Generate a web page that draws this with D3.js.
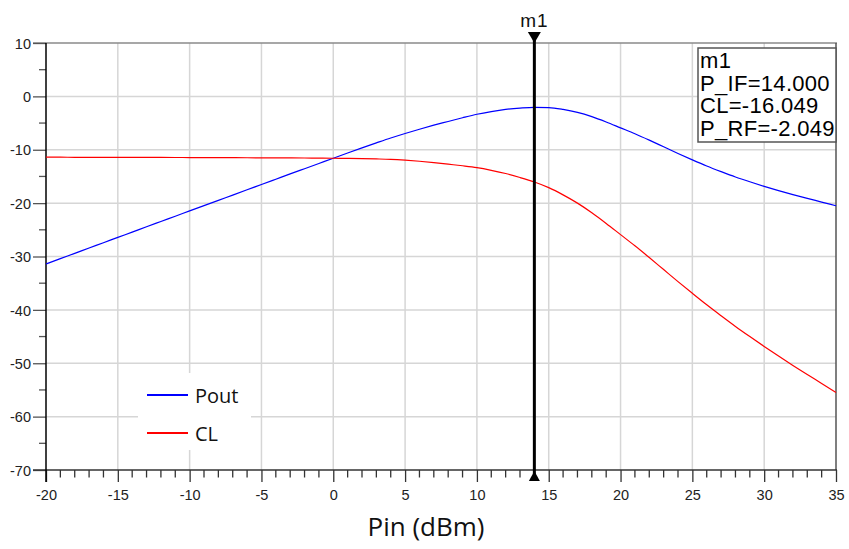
<!DOCTYPE html>
<html>
<head>
<meta charset="utf-8">
<script src="https://cdn.jsdelivr.net/npm/d3@7"></script>
<style>
  html, body { margin: 0; padding: 0; background: #fff; }
  svg { display: block; }
</style>
</head>
<body>
<svg id="chart" width="849" height="549"></svg>
<script>
// Input power sweep (dBm)
const pin = d3.range(-20, 36, 1);

// Output power at RF (dBm)
const pout = [
  -31.40, -30.40, -29.41, -28.41, -27.42, -26.42, -25.43, -24.43, -23.44, -22.45,
  -21.46, -20.47, -19.48, -18.49, -17.50, -16.51, -15.52, -14.53, -13.55, -12.57,
  -11.59, -10.62, -9.66, -8.72, -7.80, -6.95, -6.15, -5.40, -4.70, -4.00,
  -3.35, -2.85, -2.45, -2.20, -2.049, -2.10, -2.45, -3.00, -3.80, -4.80,
  -5.90, -7.00, -8.20, -9.45, -10.70, -11.90, -13.05, -14.10, -15.10, -16.00,
  -16.85, -17.65, -18.40, -19.10, -19.80, -20.50
];

// Conversion loss (dB)
const cl = [
  -11.40, -11.40, -11.41, -11.41, -11.42, -11.42, -11.43, -11.43, -11.44, -11.45,
  -11.46, -11.47, -11.48, -11.49, -11.50, -11.51, -11.52, -11.53, -11.55, -11.57,
  -11.59, -11.62, -11.66, -11.72, -11.80, -11.95, -12.15, -12.40, -12.70, -13.00,
  -13.35, -13.85, -14.45, -15.20, -16.049, -17.10, -18.45, -20.00, -21.80, -23.80,
  -25.90, -28.00, -30.20, -32.45, -34.70, -36.90, -39.05, -41.10, -43.10, -45.00,
  -46.85, -48.65, -50.40, -52.10, -53.80, -55.50
];

const seriesNames = ["Pout", "CL"];
const seriesColors = ["#0000ff", "#ff0000"];

const xMajorTicks = d3.range(-20, 36, 5);
const xMinorTicks = d3.range(-20, 36, 1).filter(v => v % 5 !== 0);
const yMajorTicks = d3.range(-70, 11, 10);
const yMinorTicks = d3.range(-65, 10, 10);

// Marker m1
const markerName = "m1";
const markerX = 14;
const markerIdx = pin.indexOf(markerX);
const markerLines = [
  markerName,
  "P_IF=" + markerX.toFixed(3),
  "CL=" + cl[markerIdx].toFixed(3),
  "P_RF=" + pout[markerIdx].toFixed(3)
];

const svg = d3.select("#chart");
const L = 46, R = 836, T = 43, B = 470;

const x = d3.scaleLinear().domain([-20, 35]).range([L, R]);
const y = d3.scaleLinear().domain([-70, 10]).range([B, T]);

const tickFont = "'Liberation Sans', Arial, sans-serif";
const labelFont = "'Open Sans', 'Noto Sans', sans-serif";
const plain = d => String(d);  // ASCII hyphen for negatives

// grid
const grid = svg.append("g").attr("stroke", "#d6d6d6").attr("stroke-width", 1.5);
grid.selectAll("line.gx").data(xMajorTicks.slice(1, -1)).join("line")
  .attr("x1", d => x(d)).attr("x2", d => x(d)).attr("y1", T).attr("y2", B);
grid.selectAll("line.gy").data(yMajorTicks.slice(1, -1)).join("line")
  .attr("x1", L).attr("x2", R).attr("y1", d => y(d)).attr("y2", d => y(d));

// frame: top and right borders
svg.append("line").attr("x1", 33).attr("x2", R + 1).attr("y1", T).attr("y2", T)
  .attr("stroke", "#8a8a8a").attr("stroke-width", 1.5);
svg.append("line").attr("x1", R).attr("x2", R).attr("y1", T).attr("y2", B)
  .attr("stroke", "#555").attr("stroke-width", 1.5);

// y axis
const yAxis = svg.append("g").attr("transform", `translate(${L},0)`);
yAxis.call(d3.axisLeft(y).tickValues(yMajorTicks).tickFormat(plain).tickSize(13).tickPadding(2))
  .call(g => g.select(".domain").remove());
yAxis.selectAll(".tick line").attr("stroke", "#555").attr("stroke-width", 1.3);
yAxis.selectAll(".tick text").attr("font-family", tickFont).attr("font-size", 14.5)
  .attr("fill", "#222").attr("dy", "0.36em");
yAxis.selectAll("line.minor").data(yMinorTicks).join("line").attr("class", "minor")
  .attr("x1", -7).attr("x2", 0).attr("y1", d => y(d)).attr("y2", d => y(d))
  .attr("stroke", "#555").attr("stroke-width", 1.3);

// x axis
const xAxis = svg.append("g").attr("transform", `translate(0,${B})`);
xAxis.call(d3.axisBottom(x).tickValues(xMajorTicks).tickFormat(plain).tickSize(12).tickPadding(8))
  .call(g => g.select(".domain").remove());
xAxis.selectAll(".tick line").attr("stroke", "#333").attr("stroke-width", 1.3);
xAxis.selectAll(".tick text").attr("font-family", tickFont).attr("font-size", 14.5)
  .attr("fill", "#222");
xAxis.selectAll("line.minor").data(xMinorTicks).join("line").attr("class", "minor")
  .attr("x1", d => x(d)).attr("x2", d => x(d)).attr("y1", 0).attr("y2", 7.5)
  .attr("stroke", "#333").attr("stroke-width", 1.3);

// axis lines
svg.append("line").attr("x1", 33).attr("x2", R + 1).attr("y1", B).attr("y2", B)
  .attr("stroke", "#333").attr("stroke-width", 1.5);
svg.append("line").attr("x1", L).attr("x2", L).attr("y1", T).attr("y2", B + 12)
  .attr("stroke", "#000").attr("stroke-width", 1.5);

// curves
const line = d3.line().x((d, i) => x(pin[i])).y(d => y(d)).curve(d3.curveMonotoneX);
[pout, cl].forEach((s, k) => {
  svg.append("path").datum(s).attr("d", line).attr("fill", "none")
    .attr("stroke", seriesColors[k]).attr("stroke-width", 1.2);
});

// legend
const leg = svg.append("g");
leg.append("rect").attr("x", 138).attr("y", 373).attr("width", 113).attr("height", 77)
  .attr("fill", "#fff");
seriesNames.forEach((name, k) => {
  const yy = 395 + k * 38;
  leg.append("line").attr("x1", 147).attr("x2", 188).attr("y1", yy).attr("y2", yy)
    .attr("stroke", seriesColors[k]).attr("stroke-width", 2);
  leg.append("text").attr("x", 195).attr("y", yy + 8).text(name)
    .attr("font-family", labelFont).attr("font-size", 20).attr("fill", "#111");
});

// x axis title
svg.append("text").attr("x", 426).attr("y", 536).attr("text-anchor", "middle")
  .attr("font-family", labelFont).attr("font-size", 26).attr("fill", "#111")
  .text("Pin (dBm)");

// marker line and triangles
const mx = x(markerX);
svg.append("line").attr("x1", mx).attr("x2", mx).attr("y1", 36).attr("y2", B + 4)
  .attr("stroke", "#000").attr("stroke-width", 3);
svg.append("path").attr("d", `M${mx - 6.5},32 L${mx + 6.5},32 L${mx},43 Z`).attr("fill", "#000");
svg.append("path").attr("d", `M${mx - 5.5},481 L${mx + 5.5},481 L${mx},471 Z`).attr("fill", "#000");
svg.append("text").attr("x", mx).attr("y", 27).attr("text-anchor", "middle")
  .attr("font-family", tickFont).attr("font-size", 19).attr("letter-spacing", 1)
  .attr("fill", "#111").text(markerName);

// marker readout box
const box = svg.append("g");
box.append("rect").attr("x", 698).attr("y", 48).attr("width", 138).attr("height", 94)
  .attr("fill", "#fff").attr("stroke", "#555").attr("stroke-width", 1.5);
box.selectAll("text").data(markerLines).join("text")
  .attr("x", 700).attr("y", (d, i) => 68 + i * 22.7)
  .attr("font-family", tickFont).attr("font-size", 22).attr("letter-spacing", 0.3)
  .attr("fill", "#000")
  .text(d => d);
</script>
</body>
</html>
